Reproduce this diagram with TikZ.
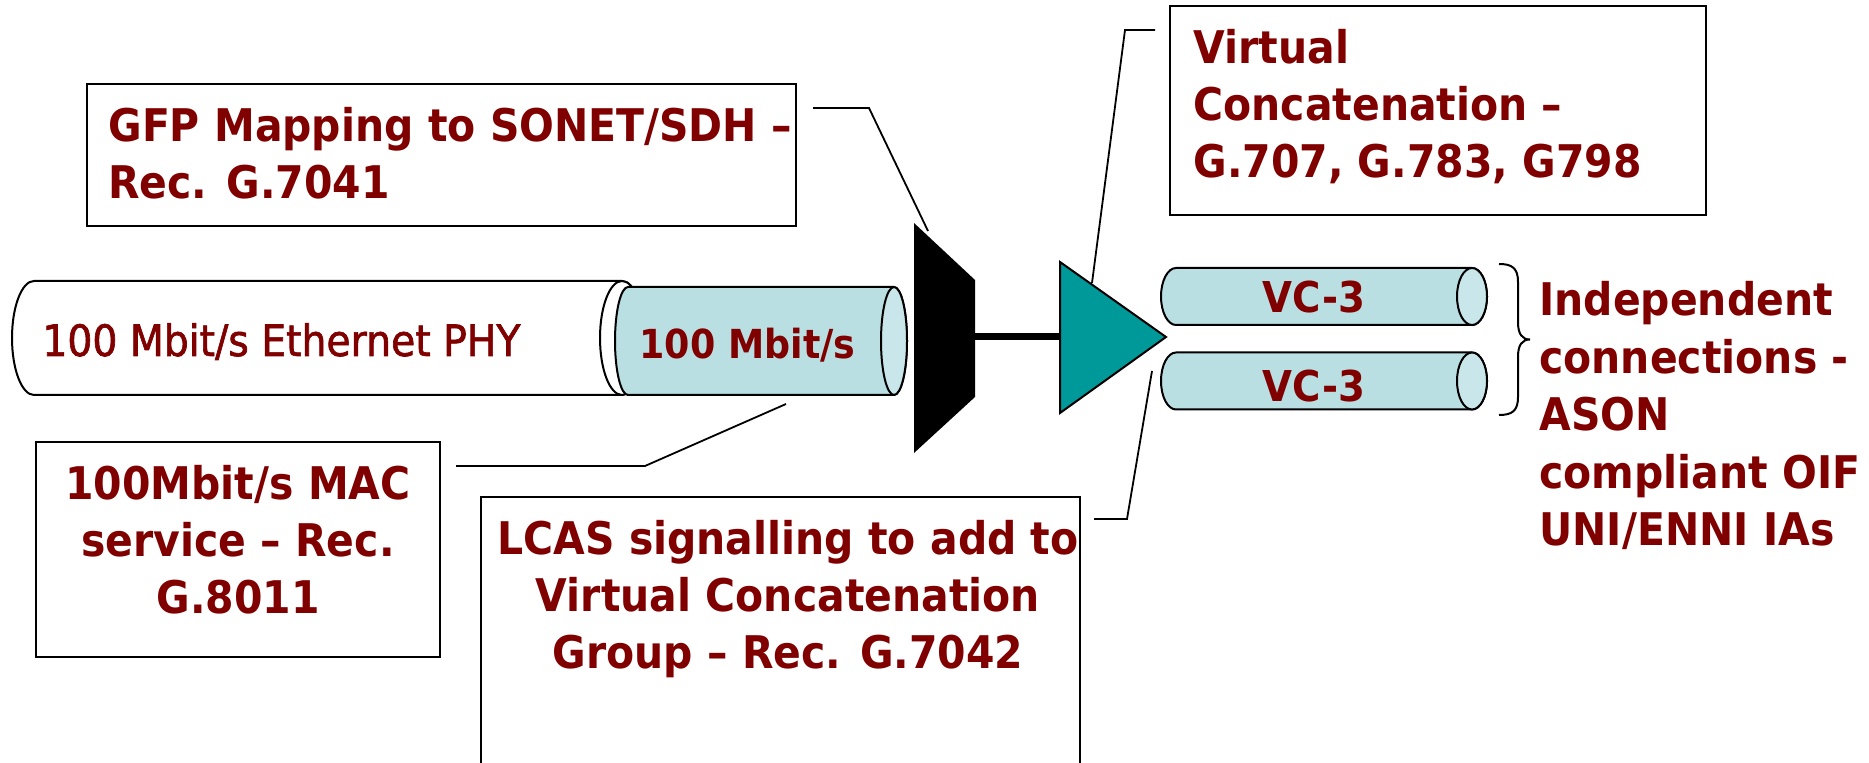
\documentclass[tikz,border=0pt]{standalone}
\usepackage{fontspec}
\setmainfont{DejaVu Sans}[FakeStretch=0.91]
\newfontfamily\phyfont{DejaVu Sans}[FakeStretch=0.91,FakeBold=1.5]
\definecolor{txt}{HTML}{800000}
\definecolor{cyanbody}{HTML}{B9DFE3}
\definecolor{cyanface}{HTML}{C9E7EA}
\definecolor{tealfill}{HTML}{009999}
\tikzset{
  box/.style={draw=black, line width=1pt, fill=white, inner sep=0pt},
  lbl/.style={text=txt, inner sep=0pt, font=\bfseries\fontsize{22.5}{28.5}\selectfont},
  call/.style={draw=black, line width=0.9pt},
  cyl/.style={draw=black, line width=1pt},
}
\newcommand\lns[2]{\begin{tabular}[t]{@{}#1@{}}#2\end{tabular}}
\begin{document}
\begin{tikzpicture}[x=0.5pt,y=-0.5pt]
\useasboundingbox (0,0) rectangle (1869,763);
\clip (0,0) rectangle (1869,763);

% white cylinder
\draw[cyl, fill=white] (34,281) -- (622,281) arc[start angle=-90,end angle=90,x radius=22,y radius=57] -- (34,395) arc[start angle=90,end angle=270,x radius=22,y radius=57] -- cycle;
\draw[cyl, fill=white] (622,338) ellipse[x radius=22, y radius=57];
% cyan cylinder
\draw[cyl, fill=cyanbody] (628,287) -- (894,287) arc[start angle=-90,end angle=90,x radius=13,y radius=54] -- (628,395) arc[start angle=90,end angle=270,x radius=13,y radius=54] -- cycle;
\draw[cyl, fill=cyanface] (894,341) ellipse[x radius=13,y radius=54];
\node[lbl, font=\phyfont\fontsize{21.6}{25}\selectfont, anchor=base west] (phy) at (42,356) {100 Mbit/s Ethernet PHY};
\node[lbl, font=\bfseries\fontsize{20}{24}\selectfont, anchor=base] (mb) at (747.5,359) {100 Mbit/s};

% VC-3 cylinders
\draw[cyl, fill=cyanbody] (1176,268) -- (1472,268) arc[start angle=-90,end angle=90,x radius=15,y radius=28.5] -- (1176,325) arc[start angle=90,end angle=270,x radius=15,y radius=28.5] -- cycle;
\draw[cyl, fill=cyanface] (1472,296.5) ellipse[x radius=15,y radius=28.5];
\draw[cyl, fill=cyanbody] (1176,352.5) -- (1472,352.5) arc[start angle=-90,end angle=90,x radius=15,y radius=28.5] -- (1176,409.5) arc[start angle=90,end angle=270,x radius=15,y radius=28.5] -- cycle;
\draw[cyl, fill=cyanface] (1472,381) ellipse[x radius=15,y radius=28.5];
\node[lbl, font=\bfseries\fontsize{21.25}{25}\selectfont, anchor=base] (vc1) at (1314,313) {VC-3};
\node[lbl, font=\bfseries\fontsize{21.25}{25}\selectfont, anchor=base] (vc2) at (1314,402) {VC-3};

% mux and triangle
\fill[black] (914,223) -- (975,280) -- (975,397) -- (914,453) -- cycle;
\coordinate (muxR) at (975,337);
\coordinate (triL) at (1060,337);
\draw[line width=3.5pt] (muxR) -- (triL);
\draw[fill=tealfill, line width=1pt, line join=miter] (1060,262) -- (1166,337) -- (1060,413) -- cycle;

% boxes
\node[box, minimum width=354.5pt, minimum height=71pt] (gfp) at (441.5,155) {};
\node[lbl, anchor=base west] (gfptxt) at (108,142) {\lns{l}{GFP Mapping to SONET/SDH –\\Rec. G.7041}};

\node[box, minimum width=268pt, minimum height=104.5pt] (vcat) at (1438,110.5) {};
\node[lbl, anchor=base west] (vcattxt) at (1193,64) {\lns{l}{Virtual\\Concatenation –\\G.707, G.783, G798}};

\node[box, minimum width=202pt, minimum height=107.5pt] (mac) at (238,549.5) {};
\node[lbl, anchor=base] (mactxt) at (238,500) {\lns{c}{100Mbit/s MAC\\service – Rec.\\G.8011}};

\node[box, minimum width=299.5pt, minimum height=151.5pt] (lcas) at (780.5,648.5) {};
\node[lbl, anchor=base] (lcastxt) at (788,555) {\lns{c}{LCAS signalling to add to\\Virtual Concatenation\\Group – Rec. G.7042}};

\node[lbl, font=\bfseries\fontsize{22.5}{28.75}\selectfont, anchor=base west] (indep) at (1539,316) {\lns{l}{Independent\\connections -\\ASON\\compliant OIF\\UNI/ENNI IAs}};

% callout lines
\coordinate (g1) at (813,108); \coordinate (g2) at (869,108); \coordinate (g3) at (928,231);
\draw[call] (g1) -- (g2) -- (g3);
\coordinate (v1) at (1155,30); \coordinate (v2) at (1125,30); \coordinate (v3) at (1092,283);
\draw[call] (v1) -- (v2) -- (v3);
\coordinate (m1) at (456,466); \coordinate (m2) at (645,466); \coordinate (m3) at (786,404);
\draw[call] (m1) -- (m2) -- (m3);
\coordinate (l1) at (1152,371); \coordinate (l2) at (1127,519); \coordinate (l3) at (1094,519);
\draw[call] (l1) -- (l2) -- (l3);

% brace
\draw[line width=1pt] (1499,264) .. controls (1512,264) and (1518,268) .. (1518,282) -- (1518,322) .. controls (1518,334) and (1522,339.5) .. (1530,339.5) .. controls (1522,339.5) and (1518,345) .. (1518,357) -- (1518,397) .. controls (1518,411) and (1512,415) .. (1499,415);
\end{tikzpicture}
\end{document}
